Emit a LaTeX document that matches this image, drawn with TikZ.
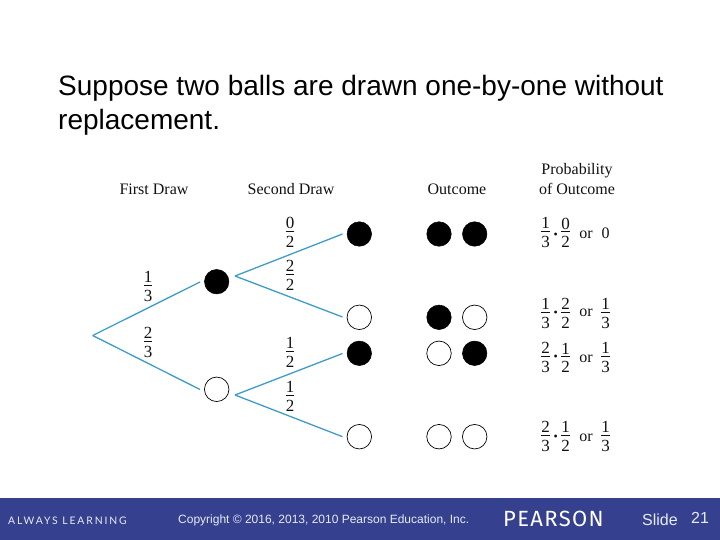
\documentclass[tikz,border=0pt]{standalone}
\usepackage{fontspec}
\setmainfont{Liberation Serif}
\newfontfamily\arialf{Liberation Sans}
\newfontfamily\spacedf[LetterSpace=18]{Lato}
\newfontfamily\pearsonf[LetterSpace=6]{Fira Sans}
\definecolor{band}{HTML}{35418F}
\definecolor{branch}{HTML}{3E9CC8}
\definecolor{ink}{HTML}{111111}
\definecolor{foot}{HTML}{E8EAF4}
\newcommand{\fr}[2]{\vbox{\offinterlineskip\halign{\hfil##\hfil\cr
  \vrule height 12pt depth 2.3pt width 0pt #1\cr
  \noalign{\hrule height 0.6pt}
  \vrule height 16pt depth 0pt width 0pt #2\cr}}}
\tikzset{
  fullball/.style={circle,draw=black,fill=black,line width=0.5pt,minimum size=24.5pt,inner sep=0pt},
  openball/.style={circle,draw=black,fill=white,line width=0.7pt,minimum size=24.5pt,inner sep=0pt},
  head/.style={font=\fontsize{16}{19}\selectfont,text=ink,inner sep=0pt,anchor=base},
  frc/.style={font=\fontsize{17}{19}\selectfont,text=ink,inner sep=0pt},
  orword/.style={font=\fontsize{16}{19}\selectfont,text=ink,inner sep=0pt,anchor=base},
  dotsep/.style={font=\fontsize{12}{14}\selectfont,text=ink,inner sep=0pt},
  branchline/.style={draw=branch,line width=1.3pt},
  title/.style={font=\arialf\fontsize{28}{34}\selectfont,text=black,inner sep=0pt,anchor=west},
  footer/.style={font=\arialf\fontsize{12}{14}\selectfont,text=foot,inner sep=0pt,anchor=west}
}
\begin{document}
\begin{tikzpicture}[x=1pt,y=-1pt]
\useasboundingbox (0,0) rectangle (720,540);
\fill[white] (0,0) rectangle (720,540);
\fill[band] (0,498) rectangle (720,540);

\node[title] (t1) at (58,88) {Suppose two balls are drawn one-by-one without};
\node[title] (t2) at (58,122) {replacement.};

\node[head] (h1) at (154,195) {First Draw};
\node[head] (h2) at (291,195) {Second Draw};
\node[head] (h3) at (457,195) {Outcome};
\node[head] (h4) at (577,175) {Probability};
\node[head] (h5) at (577,195) {of Outcome};

\coordinate (root) at (92.7,335.5);
\coordinate (rA) at (200,282);
\coordinate (rB) at (200,389.5);
\coordinate (bA) at (235,276);
\coordinate (bB) at (235,395);
\coordinate (e1) at (342.5,234);
\coordinate (e2) at (342.5,317);
\coordinate (e3) at (342.5,353.5);
\coordinate (e4) at (342.5,436.7);

\node[fullball] (f1) at (216.7,281.7) {};
\node[openball] (f2) at (216.7,389.3) {};
\node[fullball] (s1) at (359.3,234) {};
\node[openball] (s2) at (359.3,317.3) {};
\node[fullball] (s3) at (359.3,353.3) {};
\node[openball] (s4) at (359.3,436.7) {};

\draw[branchline] (root) -- (rA);
\draw[branchline] (root) -- (rB);
\draw[branchline] (bA) -- (e1);
\draw[branchline] (bA) -- (e2);
\draw[branchline] (bB) -- (e3);
\draw[branchline] (bB) -- (e4);

\node[frc] (p1) at (148,285.8) {\fr{1}{3}};
\node[frc] (p2) at (148,341.8) {\fr{2}{3}};
\node[frc] (q1) at (290,231.8) {\fr{0}{2}};
\node[frc] (q2) at (290,275.1) {\fr{2}{2}};
\node[frc] (q3) at (290,351.8) {\fr{1}{2}};
\node[frc] (q4) at (290,395.8) {\fr{1}{2}};

\node[fullball] (o1a) at (439,234) {};
\node[fullball] (o1b) at (474.7,234) {};
\node[fullball] (o2a) at (439,317.3) {};
\node[openball] (o2b) at (474.7,317.3) {};
\node[openball] (o3a) at (439,353.3) {};
\node[fullball] (o3b) at (474.7,353.3) {};
\node[openball] (o4a) at (439,436.7) {};
\node[openball] (o4b) at (474.7,436.7) {};

\node[frc] (a1) at (545.7,232.5) {\fr{1}{3}};
\node[dotsep] (d1) at (555.7,236) {•};
\node[frc] (b1) at (565.7,232.5) {\fr{0}{2}};
\node[orword] (c1) at (586,238.4) {or};
\node[orword] (z1) at (605.7,238.4) {0};

\node[frc] (a2) at (545.7,312.8) {\fr{1}{3}};
\node[dotsep] (d2) at (555.7,313.5) {•};
\node[frc] (b2) at (565.7,312.8) {\fr{2}{2}};
\node[orword] (c2) at (586,316.7) {or};
\node[frc] (z2) at (605.7,312.8) {\fr{1}{3}};

\node[frc] (a3) at (545.7,357.5) {\fr{2}{3}};
\node[dotsep] (d3) at (555.7,357.5) {•};
\node[frc] (b3) at (565.7,357.5) {\fr{1}{2}};
\node[orword] (c3) at (586,362) {or};
\node[frc] (z3) at (605.7,357.5) {\fr{1}{3}};

\node[frc] (a4) at (545.7,435.8) {\fr{2}{3}};
\node[dotsep] (d4) at (555.7,437.5) {•};
\node[frc] (b4) at (565.7,435.8) {\fr{1}{2}};
\node[orword] (c4) at (586,441.7) {or};
\node[frc] (z4) at (605.7,435.8) {\fr{1}{3}};

\node[anchor=west,inner sep=0pt,text=foot,font=\spacedf\fontsize{10.4}{12}\selectfont] (al) at (8,520.5) {ALWAYS LEARNING};
\node[footer] (cr) at (178,520) {Copyright © 2016, 2013, 2010 Pearson Education, Inc.};
\node[anchor=west,inner sep=0pt,text=white,font=\pearsonf\fontsize{22}{25}\selectfont] (pe) at (503,519) {PEARSON};
\node[footer,font=\arialf\fontsize{16}{19}\selectfont] (sl) at (642,520) {Slide};
\node[footer,font=\arialf\fontsize{16}{19}\selectfont] (nu) at (691,518) {21};
\end{tikzpicture}
\end{document}
